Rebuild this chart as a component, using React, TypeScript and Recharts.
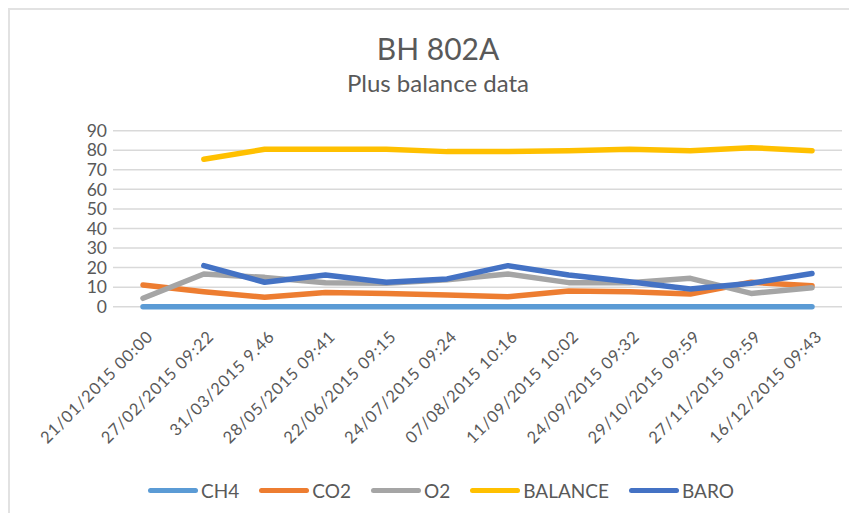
import React from 'react';
import { LineChart, Line, XAxis, YAxis, CartesianGrid } from 'recharts';

const categories = [
  '21/01/2015 00:00',
  '27/02/2015 09:22',
  '31/03/2015 9.46',
  '28/05/2015 09:41',
  '22/06/2015 09:15',
  '24/07/2015 09:24',
  '07/08/2015 10:16',
  '11/09/2015 10:02',
  '24/09/2015 09:32',
  '29/10/2015 09:59',
  '27/11/2015 09:59',
  '16/12/2015 09:43',
];

const ch4 = [0, 0, 0, 0, 0, 0, 0, 0, 0, 0, 0, 0];
const co2 = [11.1, 7.7, 4.8, 7.3, 6.8, 6.0, 5.1, 8.0, 7.7, 6.5, 12.5, 10.7];
const o2 = [4.3, 16.7, 15.0, 12.3, 12.0, 13.8, 16.7, 12.3, 12.3, 14.5, 6.8, 9.7];
const balance: (number | null)[] = [null, 75.4, 80.5, 80.5, 80.5, 79.3, 79.3, 79.8, 80.5, 79.8, 81.3, 79.8];
const baro: (number | null)[] = [null, 21.0, 12.5, 16.2, 12.5, 14.2, 21.0, 16.2, 12.8, 9.0, 12.0, 17.0];

const yTicks = [0, 10, 20, 30, 40, 50, 60, 70, 80, 90];

const seriesInfo = [
  { key: 'CH4', color: '#5B9BD5' },
  { key: 'CO2', color: '#ED7D31' },
  { key: 'O2', color: '#A5A5A5' },
  { key: 'BALANCE', color: '#FFC000' },
  { key: 'BARO', color: '#4472C4' },
];

const data = categories.map((c, i) => ({
  date: c,
  CH4: ch4[i],
  CO2: co2[i],
  O2: o2[i],
  BALANCE: balance[i],
  BARO: baro[i],
}));

const FONT = 'Lato, "Open Sans", sans-serif';
const TEXT = '#595959';

const XTick = (props: any) => {
  const { x, y, payload } = props;
  const ax = x + 11;
  const ay = y + 31;
  return (
    <text
      x={ax}
      y={ay}
      transform={`rotate(-45 ${ax} ${ay})`}
      textAnchor="end"
      fill={TEXT}
      fontSize={16.5}
      fontFamily={FONT}
      letterSpacing={0.8}
    >
      {payload.value}
    </text>
  );
};

export default function App() {
  return (
    <div
      style={{
        position: 'relative',
        width: 839,
        height: 503,
        borderTop: '2px solid #e2e2e2',
        borderLeft: '2px solid #e2e2e2',
        background: '#fff',
        fontFamily: FONT,
        color: TEXT,
      }}
    >
      <div
        style={{
          position: 'absolute',
          left: 228,
          width: 400,
          top: 23.4,
          fontSize: 30,
          lineHeight: '30px',
          textAlign: 'center',
          whiteSpace: 'nowrap',
        }}
      >
        BH 802A
      </div>
      <div
        style={{
          position: 'absolute',
          left: 228,
          width: 400,
          top: 60.7,
          fontSize: 24,
          lineHeight: '24px',
          textAlign: 'center',
          whiteSpace: 'nowrap',
        }}
      >
        Plus balance data
      </div>
      <LineChart
        width={839}
        height={503}
        data={data}
        margin={{ top: 120.7, right: 7, bottom: 46.3, left: 0 }}
      >
        <CartesianGrid horizontal vertical={false} stroke="#d9d9d9" strokeWidth={1.5} />
        <XAxis
          dataKey="date"
          interval={0}
          height={160}
          padding={{ left: 30, right: 30 }}
          tickLine={false}
          tickSize={0}
          tickMargin={0}
          axisLine={false}
          tick={<XTick />}
        />
        <YAxis
          width={103}
          domain={[0, 90]}
          ticks={yTicks}
          interval={0}
          axisLine={false}
          tickLine={false}
          tickSize={0}
          tickMargin={6}
          tick={{ fill: TEXT, fontSize: 17.5, fontFamily: FONT }}
        />
        {seriesInfo.map((s) => (
          <Line
            key={s.key}
            dataKey={s.key}
            type="linear"
            stroke={s.color}
            strokeWidth={5.5}
            strokeLinecap="round"
            strokeLinejoin="round"
            dot={false}
            activeDot={false}
            isAnimationActive={false}
          />
        ))}
      </LineChart>
      <div
        style={{
          position: 'absolute',
          left: 0,
          width: 862,
          top: 468,
          height: 24,
          display: 'flex',
          justifyContent: 'center',
          alignItems: 'center',
          gap: 20,
          fontSize: 19,
          whiteSpace: 'nowrap',
        }}
      >
        {seriesInfo.map((s) => (
          <div key={s.key} style={{ display: 'flex', alignItems: 'center' }}>
            <span
              style={{
                display: 'inline-block',
                width: 50,
                height: 5,
                borderRadius: 3,
                background: s.color,
                marginRight: 3,
              }}
            />
            <span>{s.key}</span>
          </div>
        ))}
      </div>
    </div>
  );
}
